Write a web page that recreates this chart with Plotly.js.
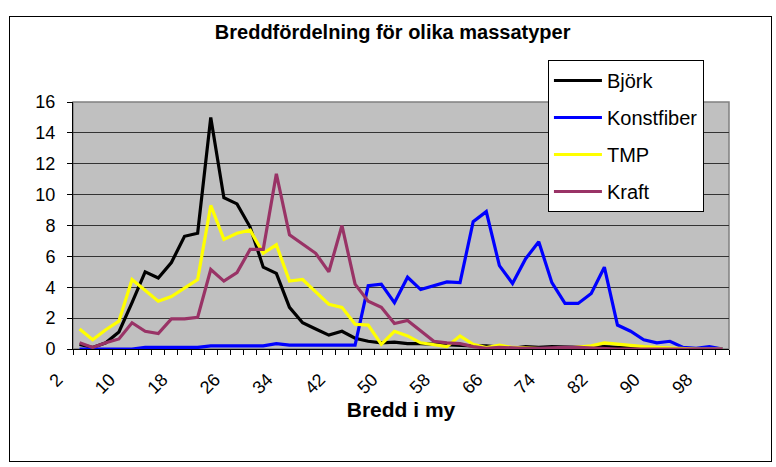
<!DOCTYPE html>
<html>
<head>
<meta charset="utf-8">
<script src="https://cdn.plot.ly/plotly-3.0.1.min.js"></script>
<style>
  html, body { margin: 0; padding: 0; background: #ffffff; }
  #wrap { position: relative; width: 776px; height: 467px; }
  #chart { width: 776px; height: 467px; }
  #frame { position: absolute; left: 9px; top: 16px; width: 761px; height: 444px;
           border: 1px solid #000; pointer-events: none; }
</style>
</head>
<body>
<div id="wrap">
  <div id="chart"></div>
  <div id="frame"></div>
</div>
<script>
// Categories: width in micrometres (2, 4, ..., 100)
const categories = ['2','4','6','8','10','12','14','16','18','20','22','24','26','28','30','32','34','36','38','40',
  '42','44','46','48','50','52','54','56','58','60','62','64','66','68','70','72','74','76','78','80',
  '82','84','86','88','90','92','94','96','98','100'];

// Labels shown on the category axis
const shownLabels = ['2','10','18','26','34','42','50','58','66','74','82','90','98'];

const bjork = [0.3,0.1,0.4,1.1,3.0,5.0,4.6,5.6,7.3,7.5,15.0,9.8,9.4,7.9,5.3,4.9,2.7,1.7,1.3,0.9,
  1.15,0.7,0.5,0.4,0.45,0.35,0.35,0.3,0.25,0.25,0.2,0.2,0.1,0.05,0.15,0.1,0.15,0.1,0.1,0.1,
  0.15,0.1,0.05,0.05,0.05,0,0,0,0,0];

const konstfiber = [0,0,0,0,0,0.1,0.1,0.1,0.1,0.1,0.2,0.2,0.2,0.2,0.2,0.35,0.25,0.25,0.25,0.25,
  0.25,0.25,4.1,4.2,3.0,4.65,3.85,4.1,4.35,4.3,8.25,8.9,5.4,4.25,5.85,6.95,4.3,2.95,2.95,3.6,
  5.3,1.55,1.15,0.6,0.4,0.5,0.1,0.05,0.15,0];

const tmp = [1.3,0.6,1.25,1.8,4.5,3.8,3.1,3.4,3.95,4.5,9.3,7.1,7.5,7.7,6.2,6.75,4.4,4.5,3.7,2.9,
  2.7,1.6,1.55,0.3,1.15,0.85,0.4,0.25,0.15,0.85,0.3,0.1,0.25,0.1,0.05,0.05,0,0.05,0.1,0.2,
  0.4,0.3,0.25,0.15,0.1,0.05,0,0,0,0];

const kraft = [0.4,0.1,0.4,0.65,1.7,1.15,1.0,1.95,1.95,2.05,5.15,4.4,4.95,6.45,6.45,11.35,7.4,6.8,6.2,5.0,
  8.0,4.2,3.1,2.7,1.65,1.85,1.15,0.5,0.4,0.35,0.15,0.05,0.1,0.05,0.05,0.05,0.1,0.1,0.1,0.05,
  0.05,0,0,0,0,0,0,0,0,0];

const seriesNames = ['Björk','Konstfiber','TMP','Kraft'];
const seriesValues = [bjork, konstfiber, tmp, kraft];
const seriesColors = ['#000000','#0000FF','#FFFF00','#993366'];

const FONT = 'Liberation Sans, Arial, Helvetica, sans-serif';

const traces = seriesNames.map((name, k) => ({
  type: 'scatter',
  mode: 'lines',
  name: name,
  x: categories,
  y: seriesValues[k],
  legendgroup: 'g' + k,
  line: { color: seriesColors[k], width: 3.2 },
  hoverinfo: 'x+y+name'
}));

const tickText = categories.map(c => shownLabels.includes(c) ? c : '');

const layout = {
  width: 776,
  height: 467,
  paper_bgcolor: '#ffffff',
  plot_bgcolor: '#C0C0C0',
  margin: { l: 73, r: 47, t: 102, b: 118, pad: 0 },
  font: { family: FONT, color: '#000000', size: 18 },
  title: {
    text: '<b>Breddfördelning för olika massatyper</b>',
    font: { family: FONT, size: 20, color: '#000000' },
    x: 0.506, xref: 'container', xanchor: 'center',
    y: 1 - 32 / 467, yref: 'container', yanchor: 'middle'
  },
  showlegend: true,
  legend: {
    x: 0.724, y: 1.17, xanchor: 'left', yanchor: 'top',
    bgcolor: '#ffffff', bordercolor: '#000000', borderwidth: 1,
    font: { family: FONT, size: 20, color: '#000000' },
    tracegroupgap: 8,
    itemwidth: 48
  },
  xaxis: {
    type: 'category',
    range: [-0.5, categories.length - 0.5],
    tickmode: 'array',
    tickvals: categories,
    ticktext: tickText,
    tickson: 'boundaries',
    ticks: 'outside',
    ticklen: 5,
    tickcolor: '#000000',
    tickangle: -45,
    ticklabelstandoff: 12,
    ticklabelshift: -22,
    tickfont: { family: FONT, size: 18, color: '#000000' },
    showline: true, linecolor: '#000000', linewidth: 1,
    showgrid: false,
    zeroline: false,
    title: {
      text: '<b>Bredd i my</b>',
      font: { family: FONT, size: 21, color: '#000000' },
      standoff: 0
    },
    automargin: false
  },
  yaxis: {
    range: [0, 16],
    tickmode: 'linear', tick0: 0, dtick: 2,
    ticks: 'outside', ticklen: 5, tickcolor: '#000000',
    ticklabelstandoff: 8,
    tickfont: { family: FONT, size: 18, color: '#000000' },
    showline: true, linecolor: '#000000', linewidth: 1,
    showgrid: true, gridcolor: '#333333', gridwidth: 1,
    zeroline: false,
    automargin: false
  },
  shapes: [{
    type: 'rect', xref: 'paper', yref: 'paper', x0: 0, x1: 1, y0: 0, y1: 1,
    line: { color: '#808080', width: 1.5 }, layer: 'below'
  }]
};

Plotly.newPlot('chart', traces, layout, { displayModeBar: false, staticPlot: true });
</script>
</body>
</html>
